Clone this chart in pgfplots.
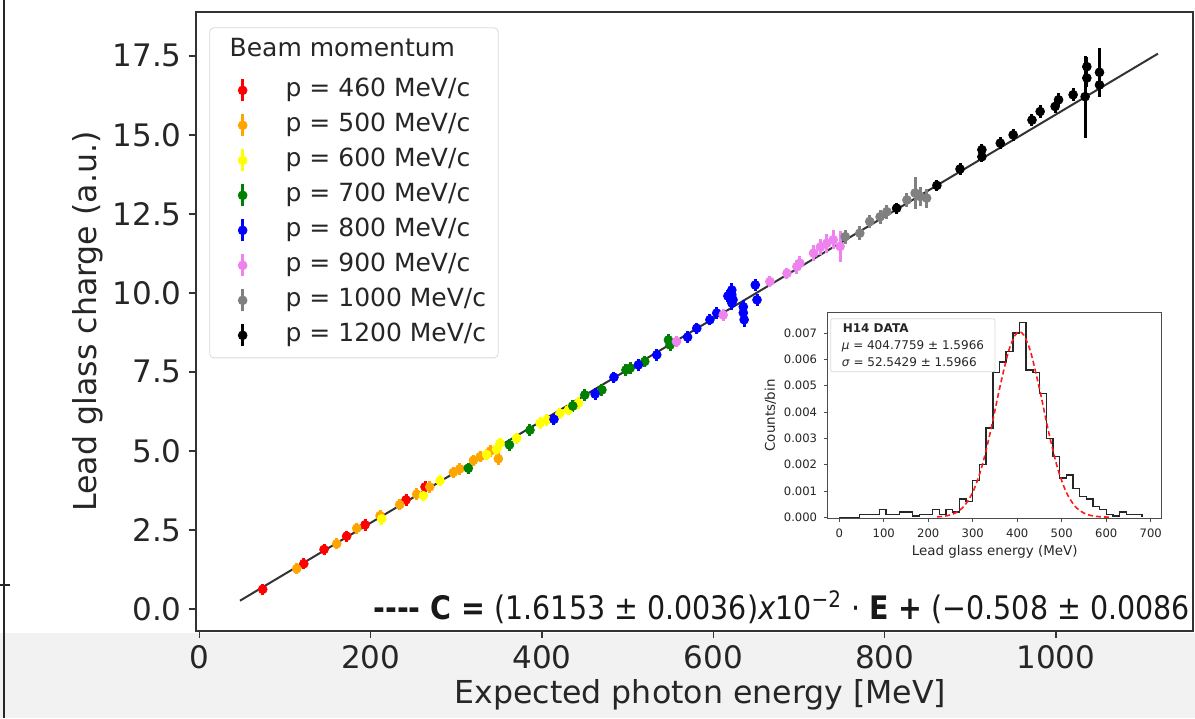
\documentclass[border=0pt]{standalone}
\usepackage{fontspec}
\setmainfont{DejaVu Sans}
\newfontfamily\condfont[FakeStretch=0.88]{DejaVu Sans}
\usepackage{pgfplots}
\pgfplotsset{compat=1.18}
\definecolor{cRed}{HTML}{FF0000}
\definecolor{cOrange}{HTML}{FFA500}
\definecolor{cYellow}{HTML}{FFFF00}
\definecolor{cGreen}{HTML}{008000}
\definecolor{cBlue}{HTML}{0000FF}
\definecolor{cViolet}{HTML}{EE82EE}
\definecolor{cGray}{HTML}{808080}
\definecolor{cBlack}{HTML}{000000}

\pgfplotstableread{
E C err
74 0.62 0.18
122 1.43 0.18
145.6 1.88 0.18
172 2.30 0.18
193.5 2.66 0.18
241.3 3.45 0.18
263.5 3.86 0.18
}\redtab
\pgfplotstableread{
E C err
113.7 1.27 0.18
160.4 2.06 0.18
183.8 2.55 0.18
211 2.95 0.18
234 3.30 0.18
253.8 3.63 0.18
269 3.86 0.18
296.6 4.32 0.18
304 4.43 0.18
320 4.70 0.18
328 4.82 0.18
340 5.00 0.18
349 4.75 0.2
}\orangetab
\pgfplotstableread{
E C err
213 2.85 0.18
261.6 3.58 0.18
281 4.06 0.18
335.5 4.88 0.18
347 5.05 0.18
351 5.24 0.18
370.5 5.40 0.18
397.8 5.88 0.18
405.6 5.98 0.18
421 6.19 0.18
431 6.30 0.18
442.5 6.51 0.18
}\yellowtab
\pgfplotstableread{
E C err
314 4.45 0.18
362 5.19 0.18
386 5.66 0.18
436 6.42 0.18
450 6.77 0.18
470 6.93 0.18
498 7.56 0.18
503 7.62 0.18
520 7.83 0.18
547.6 8.51 0.18
549.5 8.35 0.18
}\greentab
\pgfplotstableread{
E C err
414 6.00 0.18
462 6.80 0.18
484 7.33 0.18
512.5 7.72 0.18
534 8.04 0.18
570 8.60 0.18
580.7 8.88 0.18
596 9.15 0.18
604 9.36 0.18
617 9.90 0.2
621.6 10.09 0.22
621.6 9.94 0.22
623 9.78 0.22
621.6 9.68 0.22
635 9.56 0.22
635 9.37 0.22
636 9.15 0.22
649 10.25 0.2
651 9.78 0.2
}\bluetab
\pgfplotstableread{
E C err
557 8.46 0.18
611.5 9.30 0.18
666 10.36 0.18
686 10.62 0.18
697.5 10.83 0.22
701 10.94 0.22
717 11.26 0.25
725 11.45 0.25
732.5 11.57 0.3
740 11.68 0.3
748 11.47 0.5
}\violettab
\pgfplotstableread{
E C err
754 11.78 0.22
771 11.89 0.22
782.6 12.26 0.22
794.7 12.41 0.22
802.6 12.57 0.22
826 12.94 0.22
835.6 13.16 0.5
841.5 13.05 0.3
849 13.00 0.3
}\graytab
\pgfplotstableread{
E C err
814 12.68 0.18
861 13.40 0.18
888 13.92 0.18
913.5 14.53 0.18
913.5 14.31 0.18
935 14.74 0.18
950 15.00 0.18
972 15.47 0.18
981.5 15.74 0.2
999 15.90 0.2
1003 16.11 0.2
1020 16.27 0.2
1034 16.21 1.3
1036 17.16 0.3
1036 16.80 0.3
1050.8 16.98 0.77
1050.8 16.58 0.3
}\blacktab

\pgfplotsset{
  dataseries/.style={only marks, mark=*, mark size=2.2bp, color=#1,
    legend image code/.code={
      \path[draw=none, fill=none] (-11.5bp,-0.1bp) rectangle (8bp,0.1bp);
      \draw[color=#1, line width=1.4bp] (0bp,-5.5bp) -- (0bp,5.5bp);
      \fill[color=#1] (0bp,0bp) circle (2.2bp);
    },
    error bars/.cd, y dir=both, y explicit, error mark=none,
    error bar style={line width=1.5bp, color=#1}},
}

\begin{document}
\begin{tikzpicture}[x=0.5bp,y=0.5bp]
\useasboundingbox (0,0) rectangle (1195,718);
\fill[black!5] (0,0) rectangle (1195,85);
\begin{axis}[
  at={(97.85bp,43.5bp)}, anchor=south west,
  scale only axis, width=498.65bp, height=309.5bp,
  xmin=-4.2, xmax=1160, ymin=-0.70, ymax=18.89,
  xtick={0,200,400,600,800,1000},
  ytick={0,2.5,5,7.5,10,12.5,15,17.5},
  xticklabel style={/pgf/number format/1000 sep={}},
  yticklabel style={/pgf/number format/.cd, fixed, fixed zerofill, precision=1},
  /pgf/number format/assume math mode=true,
  tick pos=left, tick align=outside, major tick length=3.5bp,
  tick style={black!80, line width=0.7bp},
  axis line style={black!80, line width=0.8bp},
  tick label style={font=\fontsize{15.5bp}{18bp}\selectfont, text=black!85},
  label style={font=\fontsize{15.8bp}{19bp}\selectfont, text=black!85},
  xlabel={Expected photon energy [MeV]},
  ylabel={Lead glass charge (a.u.)},
  xlabel style={at={(axis description cs:0.506,-0.103)}, anchor=center},
  ylabel style={at={(axis description cs:-0.108,0.5)}, anchor=center},
  legend style={at={(0.0136,0.975)}, anchor=north west, draw=black!15,
    rounded corners=2bp, fill=white, inner xsep=5bp, inner ysep=4bp,
    font=\fontsize{12.5bp}{15bp}\selectfont, text=black!85,
    row sep=3bp, column sep=12.5bp,
    nodes={inner sep=1bp, text height=9.5bp, text depth=3bp}},
  legend cell align=left,
]
\addlegendimage{empty legend}
\addlegendentry[text depth=5.5bp]{\hspace*{-28bp}Beam momentum}
\addplot[black!80, line width=1bp, forget plot] coordinates {(47.5,0.259) (1119,17.57)};
\addplot[dataseries=cRed] table[x=E, y=C, y error=err] {\redtab};
\addlegendentry{p = 460 MeV/c}
\addplot[dataseries=cOrange] table[x=E, y=C, y error=err] {\orangetab};
\addlegendentry{p = 500 MeV/c}
\addplot[dataseries=cYellow] table[x=E, y=C, y error=err] {\yellowtab};
\addlegendentry{p = 600 MeV/c}
\addplot[dataseries=cGreen] table[x=E, y=C, y error=err] {\greentab};
\addlegendentry{p = 700 MeV/c}
\addplot[dataseries=cBlue] table[x=E, y=C, y error=err] {\bluetab};
\addlegendentry{p = 800 MeV/c}
\addplot[dataseries=cViolet] table[x=E, y=C, y error=err] {\violettab};
\addlegendentry{p = 900 MeV/c}
\addplot[dataseries=cGray] table[x=E, y=C, y error=err] {\graytab};
\addlegendentry{p = 1000 MeV/c}
\addplot[dataseries=cBlack] table[x=E, y=C, y error=err] {\blacktab};
\addlegendentry{p = 1200 MeV/c}
\end{axis}
% formula
\node[anchor=west, inner sep=0, text=black!90, font={\condfont\fontsize{16.2bp}{19bp}\selectfont}] at (373,111)
  {\textbf{-{}-{}-{}- C =} (1.6153 ± 0.0036)\textit{x}10\textsuperscript{−2} · \textbf{E +} (−0.508 ± 0.0086};
% inset
\fill[white] (765,165) rectangle (1172,420);
\begin{axis}[
  at={(413.85bp,99.85bp)}, anchor=south west,
  scale only axis, width=167bp, height=102.8bp,
  xmin=-26, xmax=724.7, ymin=-0.00004, ymax=0.00778,
  xtick={0,100,200,300,400,500,600,700},
  ytick={0,0.001,0.002,0.003,0.004,0.005,0.006,0.007},
  scaled y ticks=false,
  yticklabel style={/pgf/number format/.cd, fixed, fixed zerofill, precision=3},
  /pgf/number format/assume math mode=true,
  tick pos=left, tick align=outside, major tick length=1.8bp,
  tick style={black!70, line width=0.4bp},
  axis line style={black!70, line width=0.5bp},
  tick label style={font=\fontsize{5.8bp}{7bp}\selectfont, text=black!85},
  label style={font=\fontsize{6.7bp}{8bp}\selectfont, text=black!85},
  xlabel={Lead glass energy (MeV)}, ylabel={Counts/bin},
  xlabel style={yshift=3bp}, ylabel style={yshift=-3bp},
]
\addplot[const plot mark left, black!85, line width=0.7bp] coordinates {
(0,0) (15,0) (30,0) (45,0.0001) (60,0.0001) (75,0.0001) (90,0.0003) (105,0.0001)
(120,0.0001) (135,0.0002) (150,0.0002) (165,0.00005) (180,0.0001) (195,0.0001)
(210,0.0003) (225,0.0001) (240,0.0003) (255,0.0002) (270,0.0007) (285,0.0006)
(300,0.0014) (315,0.0020) (330,0.0034) (345,0.0055) (360,0.0059) (375,0.0063)
(390,0.0070) (405,0.0074) (420,0.0056) (435,0.0055) (450,0.0047) (465,0.0030)
(480,0.0023) (495,0.0015) (510,0.0016) (525,0.0011) (540,0.0008) (555,0.0007)
(570,0.0004) (585,0.0003) (600,0.0001) (615,0.00005) (630,0.0002) (645,0.0001)
(660,0.0001) (675,0.0001) (680,0)};
\addplot[red!90, smooth, line width=0.8bp, dash pattern=on 2.5bp off 1.5bp] coordinates {
(220,0.0000142) (240,0.0000505) (260,0.000156) (280,0.000414) (300,0.000954)
(320,0.00190) (340,0.00328) (360,0.00488) (380,0.00629) (395,0.00692)
(405,0.00705) (415,0.00692) (430,0.00629) (450,0.00488) (470,0.00328)
(490,0.00190) (510,0.000954) (530,0.000414) (550,0.000156) (570,0.0000505)
(590,0.0000142) (610,0.0000034)};
\node[anchor=north west, draw=black!15, fill=white, rounded corners=1bp, align=left,
  inner xsep=5.5bp, inner ysep=2.5bp, font=\fontsize{6bp}{8.5bp}\selectfont, text=black!85]
  at (rel axis cs:0.008,0.972)
  {\hspace*{0.5bp}\textbf{H14 DATA}\\ \textit{μ} = 404.7759 ± 1.5966\\ \textit{σ} = 52.5429 ± 1.5966};
\end{axis}
% screenshot border on the left
\draw[black!85, line width=0.8bp] (4,0) -- (4,718);
\draw[black!85, line width=0.8bp] (0,133) -- (10,133);
\end{tikzpicture}
\end{document}
